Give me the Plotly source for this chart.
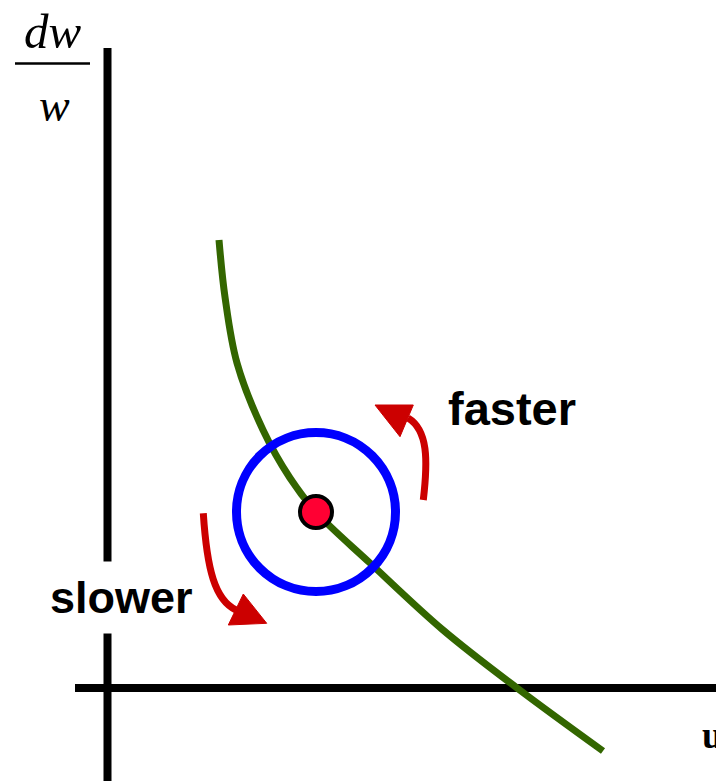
import plotly.graph_objects as go

# ---- data (u, dw/w) in chart units; origin at axes intersection ----
curve_u = [111.5, 117.5, 129.5, 155.5, 182.5, 208.5, 262.5, 335.5, 409.5, 495.5]
curve_v = [448, 391, 325, 258, 210, 176, 125, 58, 0, -63]

point_u = [208.5]
point_v = [176]
circle_radius = 79.5

# curved arrow shafts: start, control1, control2, end
faster_shaft_u = [315.8, 320.5, 320.5, 300.5]
faster_shaft_v = [188, 228, 258, 270]
faster_head_u = [267.5, 305.8, 292.5]
faster_head_v = [283, 283, 251.3]

slower_shaft_u = [95.8, 99.5, 107.5, 128.5]
slower_shaft_v = [174.7, 118, 88, 78]
slower_head_u = [135.8, 159.2, 120.8]
slower_head_v = [94, 64.7, 63]

x_axis_u = [-32.5, 616.5]
y_axis_v = [-93, 640]

labels = {"faster": (404.5, 279.5), "slower": (13.5, 91)}

GREEN = "#336600"
BLUE = "#0000FF"
RED = "#CC0000"
DOT = "#FF0033"

fig = go.Figure()

shapes = []
# axes
shapes.append(dict(type="line", xref="x", yref="y", x0=x_axis_u[0], x1=x_axis_u[1], y0=0, y1=0,
                   line=dict(color="black", width=8), layer="below"))
shapes.append(dict(type="line", xref="x", yref="y", x0=0, x1=0, y0=y_axis_v[0], y1=y_axis_v[1],
                   line=dict(color="black", width=8), layer="below"))
# circle
cu, cv = point_u[0], point_v[0]
shapes.append(dict(type="circle", xref="x", yref="y",
                   x0=cu - circle_radius, x1=cu + circle_radius,
                   y0=cv - circle_radius, y1=cv + circle_radius,
                   line=dict(color=BLUE, width=9), layer="above"))


def bez(us, vs):
    return "M {},{} C {},{} {},{} {},{}".format(us[0], vs[0], us[1], vs[1], us[2], vs[2], us[3], vs[3])


def tri(us, vs):
    return "M {},{} L {},{} L {},{} Z".format(us[0], vs[0], us[1], vs[1], us[2], vs[2])


for su, sv, hu, hv in [(faster_shaft_u, faster_shaft_v, faster_head_u, faster_head_v),
                       (slower_shaft_u, slower_shaft_v, slower_head_u, slower_head_v)]:
    shapes.append(dict(type="path", xref="x", yref="y", path=bez(su, sv),
                       line=dict(color=RED, width=7)))
    shapes.append(dict(type="path", xref="x", yref="y", path=tri(hu, hv),
                       fillcolor=RED, line=dict(color=RED, width=1)))

# curve
fig.add_trace(go.Scatter(x=curve_u, y=curve_v, mode="lines",
                         line=dict(color=GREEN, width=7, shape="spline", smoothing=1.0),
                         hoverinfo="skip", showlegend=False))
# point
fig.add_trace(go.Scatter(x=point_u, y=point_v, mode="markers",
                         marker=dict(size=32, color=DOT, line=dict(color="black", width=4)),
                         hoverinfo="skip", showlegend=False))

annotations = [
    dict(x=labels["faster"][0], y=labels["faster"][1], xref="x", yref="y", text="<b>faster</b>",
         showarrow=False, font=dict(family="Liberation Sans, Arial", size=47, color="black")),
    dict(x=labels["slower"][0], y=labels["slower"][1], xref="x", yref="y", text="<b>slower</b>",
         showarrow=False, bgcolor="white", borderpad=10,
         font=dict(family="Liberation Sans, Arial", size=45, color="black")),
    dict(x=-55, y=657, xref="x", yref="y", text="<i>dw</i>", showarrow=False, borderpad=0,
         font=dict(family="Liberation Serif, Times New Roman", size=49, color="black")),
    dict(x=-53.5, y=583, xref="x", yref="y", text="<i>w</i>", showarrow=False,
         font=dict(family="Liberation Serif, Times New Roman", size=46, color="black")),
    dict(x=616.5, y=-47, xref="x", yref="y", text="<b>u</b>", showarrow=False, xanchor="right",
         borderpad=0, font=dict(family="Liberation Serif, Times New Roman", size=37, color="black")),
]
shapes.append(dict(type="line", xref="x", yref="y", x0=-92.5, x1=-17.5, y0=624.5, y1=624.5,
                   line=dict(color="black", width=2.5)))

# page has an 8px body margin: figure covers reference pixels 8..724 x 8..781
fig.update_layout(
    width=716, height=773, margin=dict(l=0, r=0, t=0, b=0),
    paper_bgcolor="white", plot_bgcolor="white",
    xaxis=dict(range=[-99.5, 616.5], visible=False, fixedrange=True),
    yaxis=dict(range=[-93, 680], visible=False, fixedrange=True),
    shapes=shapes, annotations=annotations, showlegend=False,
)

fig.write_html("out.html")
